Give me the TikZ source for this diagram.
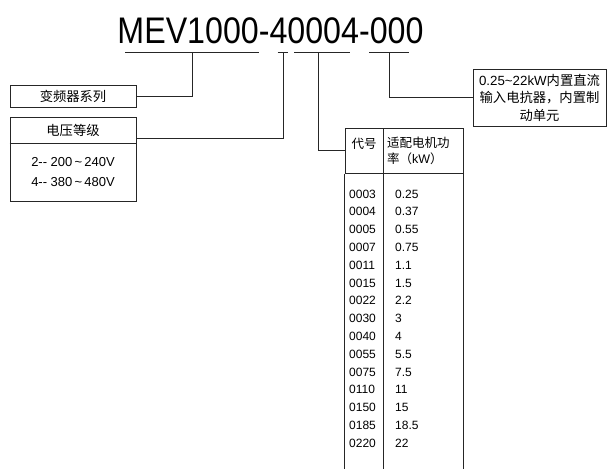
\documentclass[tikz,border=0pt]{standalone}
\usepackage{fontspec}
\usepackage{graphicx,tikz}
\setmainfont{Liberation Sans}
\newfontfamily\cjk{Noto Sans CJK SC}
\newcommand{\zh}[1]{{\cjk #1}}
\colorlet{lcol}{black!85}
\tikzstyle{box}=[draw=lcol, line width=1pt, inner sep=0pt, font=\fontsize{13.3}{17.5}\selectfont]
\tikzstyle{wire}=[line width=0.9pt, lcol]
\tikzstyle{cell}=[anchor=west, inner sep=0pt, font=\fontsize{12}{14}\selectfont]

\begin{document}
\begin{tikzpicture}[x=1pt, y=-1pt]
		\useasboundingbox (0,0) rectangle (608,469);
		\node[anchor=base, inner sep=0pt, font=\fontsize{37}{40}\selectfont] (title) at (270.5,43) {\scalebox{0.87}[1]{MEV1000-40004-000}};
		\coordinate (u1a) at (125,52); \coordinate (u1b) at (259,52); \coordinate (t1) at (192.5,52);
		\coordinate (u2a) at (277.5,52); \coordinate (u2b) at (287.5,52); \coordinate (t2) at (283,52);
		\coordinate (u3a) at (294,52); \coordinate (u3b) at (350,52); \coordinate (t3) at (318,52);
		\coordinate (u4a) at (369,52); \coordinate (u4b) at (409,52); \coordinate (t4) at (389.5,52);
		\draw[wire] (u1a)--(u1b) (u2a)--(u2b) (u3a)--(u3b) (u4a)--(u4b);
		\node[box, minimum width=126pt, minimum height=22pt] (series) at (73,96) {\zh{变频器系列}};
		\node[box, minimum width=126pt, minimum height=58pt, align=center, font=\fontsize{13}{20}\selectfont] (voltbody) at (73,172) {2-\kern0pt- 200\,\textasciitilde\,240V\\4-\kern0pt- 380\,\textasciitilde\,480V};
		\node[box, minimum width=126pt, minimum height=26pt] (volthead) at (73,130) {\zh{电压等级}};
		\draw[lcol, line width=1.6pt] (volthead.south west) -- (volthead.south east);
		\coordinate (vin) at ([yshift=-8pt]volthead.east);
		\node[box, minimum width=38pt, minimum height=45pt] (codehead) at (364,150.5) {};
		\node[inner sep=0pt, font=\fontsize{12.5}{16}\selectfont] (codetxt) at (364,144) {\zh{代号}};
		\node[box, minimum width=80pt, minimum height=45pt, text width=72pt, align=left, font=\fontsize{12.5}{16}\selectfont] (powhead) at (423,150.5) {\zh{适配电机功}\\\zh{率（}kW\zh{）}};
		\coordinate (bot) at (0,469);
		\draw[wire, line width=1pt] (codehead.south west) -- (codehead.south west |- bot) (codehead.south east) -- (codehead.south east |- bot) (powhead.south east) -- (powhead.south east |- bot);
		\foreach \c/\p [count=\i from 0] in {0003/0.25, 0004/0.37, 0005/0.55, 0007/0.75, 0011/1.1, 0015/1.5, 0022/2.2, 0030/3, 0040/4, 0055/5.5, 0075/7.5, 0110/11, 0150/15, 0185/18.5, 0220/22}
		{
			\node[cell] (c\i) at (349,{194+17.8*\i}) {\c};
			\node[cell] (p\i) at (395,{194+17.8*\i}) {\p};
		}
		\node[box, minimum width=133pt, minimum height=57pt, text width=127pt, align=center] (brake) at (539.5,97.5) {0.25\textasciitilde22kW\zh{内置直流}\\\zh{输入电抗器，内置制}\\\zh{动单元}};
		\draw[wire] (t1) |- (series.east);
		\draw[wire] (t2) |- (vin);
		\draw[wire] (t3) |- (codehead.west);
		\draw[wire] (t4) |- (brake.west);
	\end{tikzpicture}
\end{document}
